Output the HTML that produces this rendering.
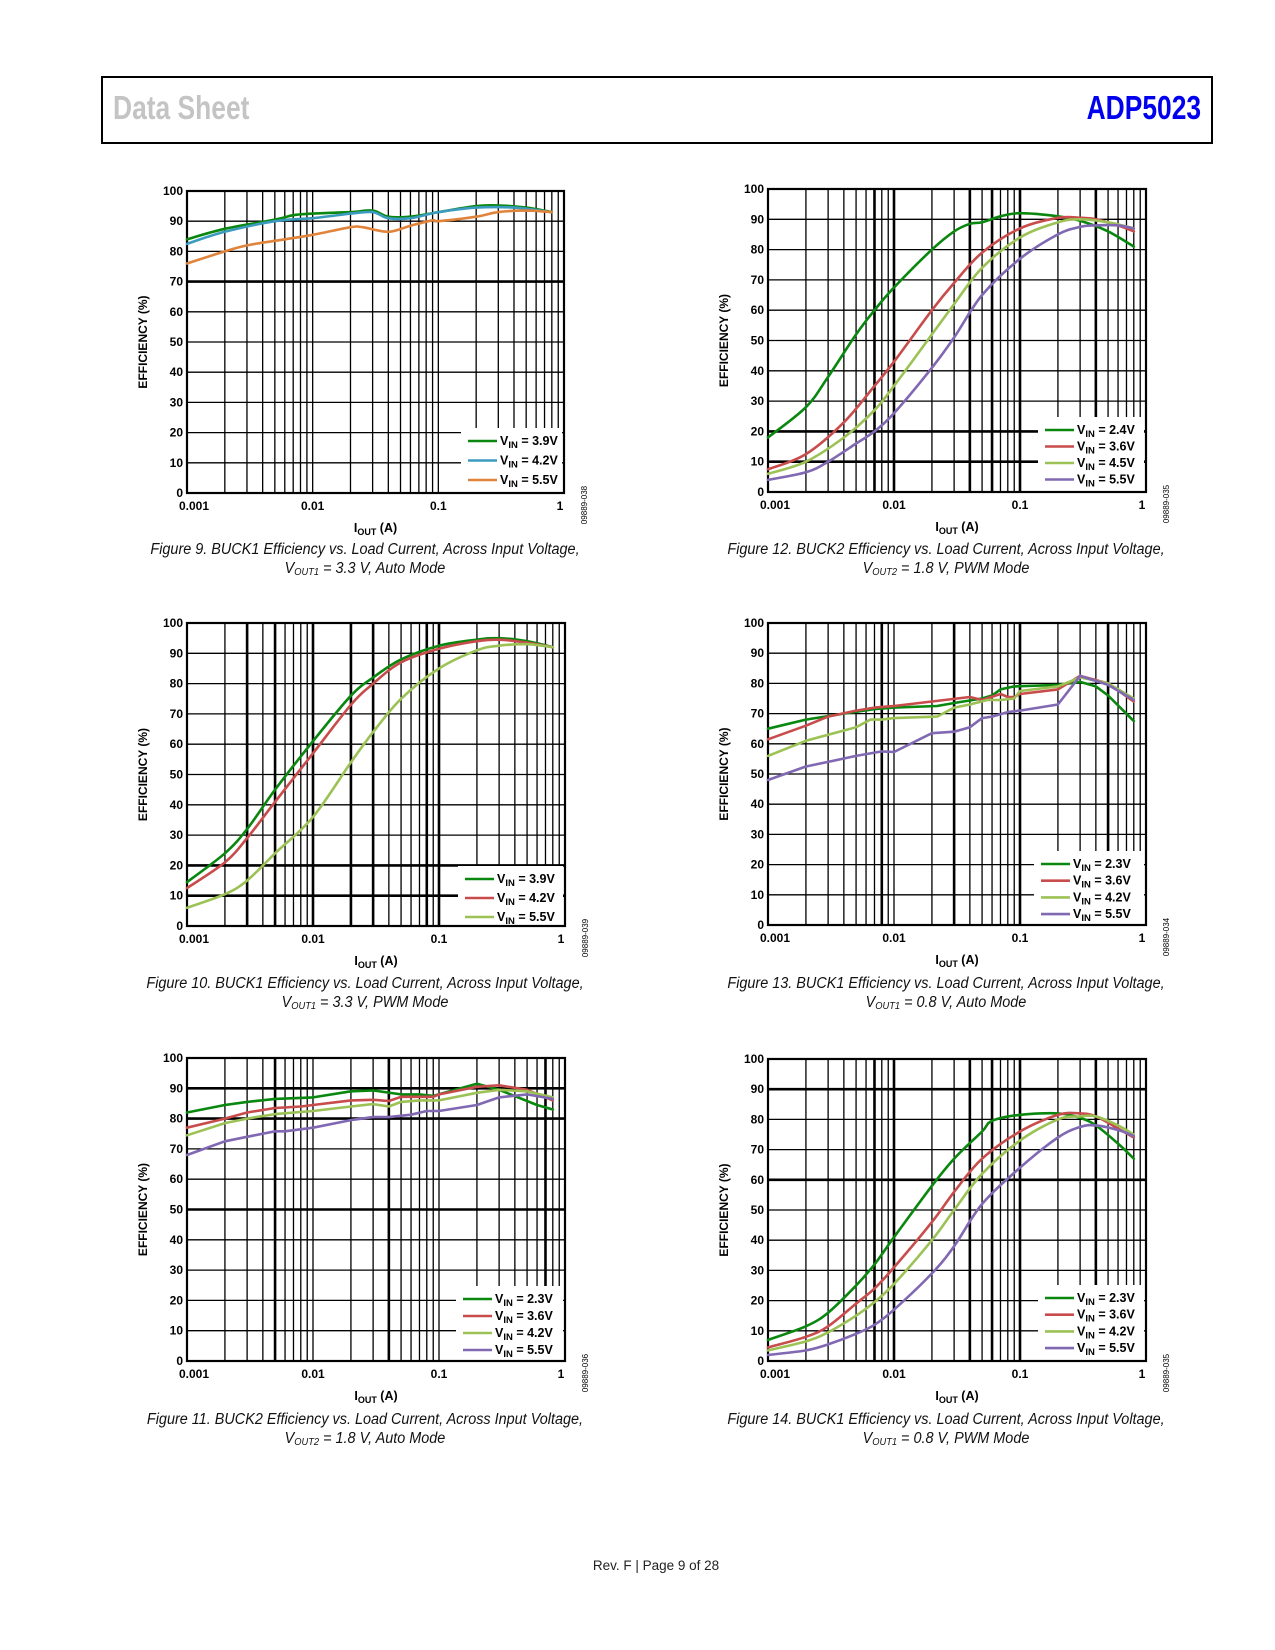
<!DOCTYPE html>
<html>
<head>
<meta charset="utf-8">
<style>
  html,body{margin:0;padding:0;background:#fff;}
  body{width:1275px;height:1650px;position:relative;overflow:hidden;font-family:"Liberation Sans",sans-serif;}
  #hdr{position:absolute;left:101px;top:76px;width:1108px;height:64px;border:2.5px solid #000;border-top-width:2px;box-sizing:content-box;}
  #hdr .l{position:absolute;left:10px;top:11px;font-weight:bold;font-size:33px;color:#c4c4c4;transform:scaleX(0.8);transform-origin:left center;}
  #hdr .r{position:absolute;right:10px;top:11px;font-weight:bold;font-size:33px;color:#0000ee;transform:scaleX(0.8);transform-origin:right center;}
  .cap{position:absolute;width:560px;text-align:center;font-style:italic;font-size:15.5px;line-height:19px;color:#111;transform:scaleX(0.93);transform-origin:center;}
  .cap sub{font-size:10px;vertical-align:-2px;line-height:0;}
  #foot{position:absolute;left:0;width:1312px;top:1558px;text-align:center;font-size:13.5px;color:#222;}
  svg{position:absolute;left:0;top:0;}
</style>
</head>
<body>
<div id="hdr">
  <span class="l">Data Sheet</span>
  <span class="r">ADP5023</span>
</div>

<svg id="charts" width="1275" height="1650"></svg>

<div class="cap" style="left:85px;top:540px;">Figure 9. BUCK1 Efficiency vs. Load Current, Across Input Voltage,<br>V<sub>OUT1</sub> = 3.3 V, Auto Mode</div>
<div class="cap" style="left:666px;top:540px;">Figure 12. BUCK2 Efficiency vs. Load Current, Across Input Voltage,<br>V<sub>OUT2</sub> = 1.8 V, PWM Mode</div>
<div class="cap" style="left:85px;top:974px;">Figure 10. BUCK1 Efficiency vs. Load Current, Across Input Voltage,<br>V<sub>OUT1</sub> = 3.3 V, PWM Mode</div>
<div class="cap" style="left:666px;top:974px;">Figure 13. BUCK1 Efficiency vs. Load Current, Across Input Voltage,<br>V<sub>OUT1</sub> = 0.8 V, Auto Mode</div>
<div class="cap" style="left:85px;top:1410px;">Figure 11. BUCK2 Efficiency vs. Load Current, Across Input Voltage,<br>V<sub>OUT2</sub> = 1.8 V, Auto Mode</div>
<div class="cap" style="left:666px;top:1410px;">Figure 14. BUCK1 Efficiency vs. Load Current, Across Input Voltage,<br>V<sub>OUT1</sub> = 0.8 V, PWM Mode</div>

<div id="foot">Rev. F | Page 9 of 28</div>

<script>
// ---------- shared axis data ----------
const xTickValues = [0.001, 0.01, 0.1, 1];
const xTickLabels = ["0.001", "0.01", "0.1", "1"];
const yTickValues = [0,10,20,30,40,50,60,70,80,90,100];
const yTickLabels = ["0","10","20","30","40","50","60","70","80","90","100"];

// ---------- Figure 9 ----------
const fig9_labels = ["3.9V","4.2V","5.5V"];
const fig9_x39 = [0.001,0.002,0.005,0.007,0.01,0.02,0.03,0.04,0.06,0.1,0.2,0.3,0.5,0.8];
const fig9_y39 = [84,87.5,90.5,92,92.5,93,93.5,91.5,91.5,93,95,95.2,94.5,93];
const fig9_x42 = [0.001,0.002,0.005,0.01,0.02,0.03,0.04,0.06,0.1,0.2,0.4,0.8];
const fig9_y42 = [82.5,86.5,90,91,92.5,93,91,91,93,94.5,94.5,93];
const fig9_x55 = [0.001,0.002,0.003,0.005,0.01,0.02,0.025,0.04,0.06,0.09,0.1,0.2,0.3,0.5,0.8];
const fig9_y55 = [76,80,82,83.5,85.5,88,88,86.5,88.5,90.3,90,91.5,93,93.5,93];

// ---------- Figure 12 ----------
const fig12_labels = ["2.4V","3.6V","4.5V","5.5V"];
const fig12_x24 = [0.001,0.002,0.003,0.005,0.007,0.01,0.02,0.03,0.04,0.05,0.07,0.1,0.2,0.3,0.5,0.8];
const fig12_y24 = [18,28,38,52,60,67.5,80,86,88.5,89,91,92,91,89.5,86,81];
const fig12_x36 = [0.001,0.002,0.004,0.007,0.01,0.02,0.03,0.05,0.1,0.2,0.3,0.4,0.6,0.8];
const fig12_y36 = [7.5,12.5,23,35,43,60,69,79,87,90.5,90.5,90,88,86];
const fig12_x45 = [0.001,0.002,0.004,0.007,0.01,0.02,0.03,0.05,0.1,0.2,0.3,0.5,0.8];
const fig12_y45 = [6,10,18,27,35,52,62,74,84,89,90,89,87];
const fig12_x55 = [0.001,0.002,0.003,0.005,0.007,0.01,0.02,0.03,0.05,0.1,0.2,0.3,0.4,0.6,0.8];
const fig12_y55 = [4,6.5,10,16,20,26,41,51,65,77,85,87.5,88,88,87];

// ---------- Figure 10 ----------
const fig10_labels = ["3.9V","4.2V","5.5V"];
const fig10_x39 = [0.001,0.002,0.003,0.005,0.01,0.02,0.03,0.05,0.1,0.2,0.3,0.5,0.8];
const fig10_y39 = [14.5,24,32,45,61,76,82,88,92.5,94.5,95,94,92];
const fig10_x42 = [0.001,0.002,0.003,0.005,0.01,0.02,0.03,0.05,0.1,0.2,0.3,0.5,0.8];
const fig10_y42 = [12.5,21,29,41,57,73,80,87,91.5,94,94.5,93.5,92];
const fig10_x55 = [0.001,0.002,0.003,0.005,0.01,0.02,0.03,0.05,0.1,0.2,0.3,0.5,0.8];
const fig10_y55 = [6,10.5,15,24,36,54,64,75,85,91,92.5,93,92];

// ---------- Figure 13 ----------
const fig13_labels = ["2.3V","3.6V","4.2V","5.5V"];
const fig13_x23 = [0.001,0.002,0.004,0.007,0.01,0.022,0.03,0.05,0.06,0.07,0.09,0.2,0.3,0.4,0.5,0.8];
const fig13_y23 = [65,68,70,71.5,72,72.5,73.5,75,76,78,79,79.5,80.5,79,76,67.5];
const fig13_x36 = [0.001,0.002,0.003,0.005,0.007,0.01,0.02,0.04,0.05,0.07,0.08,0.09,0.1,0.2,0.3,0.5,0.8];
const fig13_y36 = [61.5,66,69,71,72,72.5,74,75.5,74.5,76.5,75.5,75.5,76.5,78,82.5,80,74];
const fig13_x42 = [0.001,0.002,0.003,0.005,0.0065,0.008,0.01,0.022,0.03,0.04,0.055,0.07,0.09,0.1,0.2,0.3,0.5,0.8];
const fig13_y42 = [56,61,63,65.5,68,68,68.5,69,72,73,74.5,74.5,75,77.5,79,82,80,75];
const fig13_x55 = [0.001,0.002,0.003,0.005,0.008,0.01,0.02,0.03,0.04,0.05,0.06,0.08,0.1,0.2,0.3,0.5,0.8];
const fig13_y55 = [48,52.5,54,56,57.5,57.3,63.5,64,65.5,68.5,69,70.5,71,73,82.5,79.5,74.5];

// ---------- Figure 11 ----------
const fig11_labels = ["2.3V","3.6V","4.2V","5.5V"];
const fig11_x23 = [0.001,0.002,0.003,0.005,0.01,0.02,0.03,0.05,0.07,0.09,0.2,0.3,0.6,0.8];
const fig11_y23 = [82,84.5,85.5,86.5,87,89,89.3,88,88,87.5,91.5,89.5,84.5,83];
const fig11_x36 = [0.001,0.002,0.003,0.005,0.008,0.01,0.02,0.03,0.04,0.05,0.09,0.1,0.2,0.3,0.5,0.8];
const fig11_y36 = [77,80,82,83.5,84,84.5,86,86.2,85.8,87.2,87.2,88,90.5,91,89.5,86];
const fig11_x42 = [0.001,0.002,0.003,0.005,0.01,0.02,0.03,0.04,0.05,0.07,0.1,0.2,0.3,0.5,0.8];
const fig11_y42 = [74.5,78.5,80,81.5,82.5,84,84.8,84,85.5,86,86,88.5,89.5,89,87];
const fig11_x55 = [0.001,0.002,0.003,0.005,0.006,0.01,0.02,0.03,0.04,0.06,0.08,0.1,0.2,0.3,0.5,0.8];
const fig11_y55 = [68,72.5,74,75.8,75.8,77,79.5,80.5,80.5,81.3,82.5,82.5,84.5,87,88,86.5];

// ---------- Figure 14 ----------
const fig14_labels = ["2.3V","3.6V","4.2V","5.5V"];
const fig14_x23 = [0.001,0.002,0.003,0.005,0.007,0.01,0.02,0.03,0.05,0.06,0.1,0.2,0.3,0.4,0.6,0.8];
const fig14_y23 = [7,11.5,16,25,32,41,58,67,76,79.5,81.5,82,80.5,78,72,67];
const fig14_x36 = [0.001,0.002,0.003,0.005,0.007,0.01,0.02,0.03,0.05,0.1,0.2,0.3,0.4,0.6,0.8];
const fig14_y36 = [4.5,8,11.5,19,24,31,46,56,67,76,81.5,82,81,77,74];
const fig14_x42 = [0.001,0.002,0.003,0.005,0.007,0.01,0.02,0.03,0.05,0.1,0.2,0.3,0.4,0.6,0.8];
const fig14_y42 = [3.5,6.5,9.5,15,19.5,25.5,40,50,62,73,80,81,81,78,75];
const fig14_x55 = [0.001,0.002,0.003,0.005,0.007,0.01,0.02,0.03,0.05,0.1,0.2,0.3,0.4,0.6,0.8];
const fig14_y55 = [2,3.5,5.5,9,12,17,29,38,52,64,74,77.5,78,76.5,74.5];

const C_GREEN="#0a870f", C_BLUE="#3b9bbf", C_ORANGE="#e0843c", C_RED="#c94c4c", C_LGREEN="#9cc256", C_PURPLE="#8068b2";

const charts = [
  {id:"fig9", x0:187,x1:564,y0:191,y1:493, code:"09889-038", smooth:true,
   series:[[fig9_x39,fig9_y39,C_GREEN],[fig9_x42,fig9_y42,C_BLUE],[fig9_x55,fig9_y55,C_ORANGE]], labels:fig9_labels,
   heavyY:[70], heavyX:[], leg:{x:461,top:428,dy:19.5}},
  {id:"fig12", x0:768,x1:1146,y0:189,y1:492, code:"09889-035", smooth:true,
   series:[[fig12_x24,fig12_y24,C_GREEN],[fig12_x36,fig12_y36,C_RED],[fig12_x45,fig12_y45,C_LGREEN],[fig12_x55,fig12_y55,C_PURPLE]], labels:fig12_labels,
   heavyY:[10,20], heavyX:[0.007,0.01,0.04,0.06,0.1,0.4], leg:{x:1038,top:417,dy:16.5}},
  {id:"fig10", x0:187,x1:565,y0:623,y1:926, code:"09889-039", smooth:true,
   series:[[fig10_x39,fig10_y39,C_GREEN],[fig10_x42,fig10_y42,C_RED],[fig10_x55,fig10_y55,C_LGREEN]], labels:fig10_labels,
   heavyY:[10,20], heavyX:[0.003,0.005,0.01,0.02,0.03,0.08,0.1], leg:{x:458,top:866,dy:19}},
  {id:"fig13", x0:768,x1:1146,y0:623,y1:925, code:"09889-034", smooth:false,
   series:[[fig13_x23,fig13_y23,C_GREEN],[fig13_x36,fig13_y36,C_RED],[fig13_x42,fig13_y42,C_LGREEN],[fig13_x55,fig13_y55,C_PURPLE]], labels:fig13_labels,
   heavyY:[], heavyX:[0.008,0.03,0.1,0.5], leg:{x:1034,top:851,dy:16.7}},
  {id:"fig11", x0:187,x1:565,y0:1058,y1:1361, code:"09889-036", smooth:false,
   series:[[fig11_x23,fig11_y23,C_GREEN],[fig11_x36,fig11_y36,C_RED],[fig11_x42,fig11_y42,C_LGREEN],[fig11_x55,fig11_y55,C_PURPLE]], labels:fig11_labels,
   heavyY:[50,80,90], heavyX:[0.005,0.04,0.065,0.7], leg:{x:456,top:1286,dy:17}},
  {id:"fig14", x0:768,x1:1146,y0:1059,y1:1361, code:"09889-035", smooth:true,
   series:[[fig14_x23,fig14_y23,C_GREEN],[fig14_x36,fig14_y36,C_RED],[fig14_x42,fig14_y42,C_LGREEN],[fig14_x55,fig14_y55,C_PURPLE]], labels:fig14_labels,
   heavyY:[60,90], heavyX:[0.007,0.01,0.04,0.06,0.1,0.4], leg:{x:1038,top:1285,dy:16.7}}
];

const NS="http://www.w3.org/2000/svg";
const svg=document.getElementById('charts');
function mk(tag,attrs,parent){const e=document.createElementNS(NS,tag);for(const k in attrs)e.setAttribute(k,attrs[k]);(parent||svg).appendChild(e);return e;}

function pathFrom(pts,smooth){
  if(!smooth){return "M"+pts.map(p=>p[0].toFixed(1)+","+p[1].toFixed(1)).join(" L");}
  let d="M"+pts[0][0].toFixed(1)+","+pts[0][1].toFixed(1);
  for(let i=0;i<pts.length-1;i++){
    const p0=pts[i-1]||pts[i],p1=pts[i],p2=pts[i+1],p3=pts[i+2]||p2;
    const c1=[p1[0]+(p2[0]-p0[0])/6,p1[1]+(p2[1]-p0[1])/6];
    const c2=[p2[0]-(p3[0]-p1[0])/6,p2[1]-(p3[1]-p1[1])/6];
    d+=" C"+c1[0].toFixed(1)+","+c1[1].toFixed(1)+" "+c2[0].toFixed(1)+","+c2[1].toFixed(1)+" "+p2[0].toFixed(1)+","+p2[1].toFixed(1);
  }
  return d;
}

charts.forEach(c=>{
  const g=mk('g',{});
  
  
  const W=c.x1-c.x0,H=c.y1-c.y0;
  const xs=v=>c.x0+(Math.log10(v)+3)/3*W;
  const ys=v=>c.y1-v/100*H;
  const legW=c.x1-c.leg.x-2, legH=c.y1-c.leg.top;

  const grid=mk('g',{},g);
  
  
  for(let dec=0;dec<3;dec++){
    for(let m=1;m<=9;m++){
      const v=Math.pow(10,-3+dec)*m;
      if(m===1&&dec===0)continue;
      const x=xs(v);
      const heavy=c.heavyX.some(h=>Math.abs(h-v)<1e-9);
      mk('line',{x1:x,y1:c.y0,x2:x,y2:c.y1,stroke:'#000','stroke-width':heavy?2.6:1.3},grid);
    }
  }
  yTickValues.forEach(v=>{
    if(v===0||v===100)return;
    const y=ys(v);
    mk('line',{x1:c.x0,y1:y,x2:c.x1,y2:y,stroke:'#000','stroke-width':c.heavyY.includes(v)?2.6:1.3},grid);
  });
  mk('rect',{x:c.leg.x,y:c.leg.top,width:legW,height:legH-1,fill:'#fff'},g);
  const fr=mk('rect',{x:c.x0,y:c.y0,width:W,height:H,fill:'none',stroke:'#000','stroke-width':2.2},g);
  
  

  yTickValues.forEach((v,i)=>{
    const t=mk('text',{x:c.x0-4,y:ys(v)+4,'text-anchor':'end','font-size':12,'font-weight':'bold',fill:'#000'},g);
    t.textContent=yTickLabels[i];
    
    
  });
  xTickValues.forEach((v,i)=>{
    const t=mk('text',{x:xs(v)+(i===0?-8:i===3?-4:0),y:c.y1+17,'text-anchor':i===0?'start':'middle','font-size':12,'font-weight':'bold',fill:'#000'},g);
    t.textContent=xTickLabels[i];
    
    
  });
  const xt=mk('text',{x:(c.x0+c.x1)/2,y:c.y1+39,'text-anchor':'middle','font-size':12.5,'font-weight':'bold',fill:'#000'},g);
  
  
  xt.innerHTML='I<tspan font-size="9" dy="3">OUT</tspan><tspan dy="-3"> (A)</tspan>';
  const ytx=c.x0-40, yty=(c.y0+c.y1)/2;
  const yt=mk('text',{x:ytx,y:yty,'text-anchor':'middle','font-size':12,'font-weight':'bold',fill:'#000',transform:`rotate(-90 ${ytx} ${yty})`},g);
  yt.textContent='EFFICIENCY (%)';
  
  
  const cx=c.x1+23, cy=c.y1+12;
  const ct=mk('text',{x:cx,y:cy,'text-anchor':'middle','font-size':8,fill:'#000',transform:`rotate(-90 ${cx} ${cy})`},g);
  ct.textContent=c.code;
  
  

  c.series.forEach((s,si)=>{
    const pts=s[0].map((xv,i)=>[xs(xv),ys(s[1][i])]);
    const p=mk('path',{d:pathFrom(pts,c.smooth),fill:'none',stroke:s[2],'stroke-width':2.6,'stroke-linejoin':'round','stroke-linecap':'round'},g);
    
    
    const ly=c.leg.top+13+si*c.leg.dy;
    const le=mk('g',{},g);
    
    
    mk('line',{x1:c.leg.x+7,y1:ly,x2:c.leg.x+36,y2:ly,stroke:s[2],'stroke-width':2.6},le);
    const lt=mk('text',{x:c.leg.x+39,y:ly+4,'font-size':12.5,'font-weight':'bold',fill:'#000'},le);
    lt.innerHTML='V<tspan font-size="9.5" dy="3">IN</tspan><tspan dy="-3"> = '+c.labels[si]+'</tspan>';
  });
});
</script>
</body>
</html>
